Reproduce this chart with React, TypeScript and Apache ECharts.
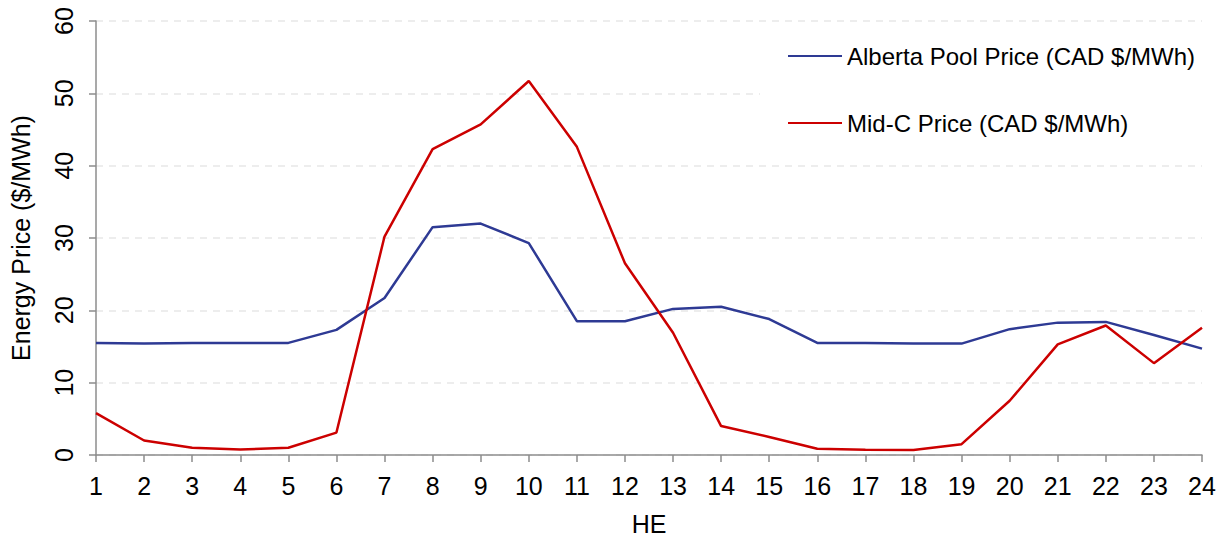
import React, { useEffect, useRef } from "react";
import * as echarts from "echarts";

// Hour-ending labels
const hours: string[] = Array.from({ length: 24 }, (_, i) => String(i + 1));

// Hourly prices, CAD $/MWh
const albertaPool: number[] = [
  15.5, 15.4, 15.5, 15.5, 15.5, 17.3, 21.7, 31.5, 32.0, 29.3, 18.5, 18.5,
  20.2, 20.5, 18.8, 15.5, 15.5, 15.4, 15.4, 17.4, 18.3, 18.4, 16.6, 14.7,
];
const midC: number[] = [
  5.8, 2.0, 1.0, 0.75, 1.0, 3.1, 30.2, 42.3, 45.7, 51.7, 42.6, 26.5,
  16.9, 4.0, 2.5, 0.87, 0.73, 0.7, 1.5, 7.5, 15.3, 17.9, 12.7, 17.6,
];

const seriesNames = ["Alberta Pool Price (CAD $/MWh)", "Mid-C Price (CAD $/MWh)"];
const FONT = "Liberation Sans, Arial, sans-serif";

export default function App() {
  const ref = useRef<HTMLDivElement>(null);

  useEffect(() => {
    if (!ref.current) return;
    const chart = echarts.init(ref.current, undefined, { renderer: "svg" });
    chart.setOption({
      animation: false,
      backgroundColor: "#ffffff",
      textStyle: { fontFamily: FONT },
      grid: { left: 95, right: 25, top: 21, bottom: 84 },
      legend: {
        orient: "vertical",
        left: 760,
        top: 36,
        itemGap: 43,
        itemWidth: 54,
        itemHeight: 2,
        backgroundColor: "#ffffff",
        padding: [8, 10, 8, 28],
        textStyle: { fontFamily: FONT, fontSize: 24, color: "#000" },
        icon: "rect",
        data: seriesNames,
      },
      xAxis: {
        type: "category",
        data: hours,
        boundaryGap: false,
        name: "HE",
        nameLocation: "middle",
        nameGap: 56,
        nameTextStyle: { fontFamily: FONT, fontSize: 25, color: "#000" },
        axisLine: { lineStyle: { color: "#8c8c8c", width: 1.5 } },
        axisTick: { alignWithLabel: true, length: 7, lineStyle: { color: "#8c8c8c", width: 1.5 } },
        axisLabel: { fontFamily: FONT, fontSize: 25, color: "#000", margin: 18, interval: 0 },
        splitLine: { show: false },
      },
      yAxis: {
        type: "value",
        min: 0,
        max: 60,
        interval: 10,
        name: "Energy Price ($/MWh)",
        nameLocation: "middle",
        nameGap: 63,
        nameRotate: 90,
        nameTextStyle: { fontFamily: FONT, fontSize: 25, color: "#000" },
        axisLine: { show: true, lineStyle: { color: "#8c8c8c", width: 1.5 } },
        axisTick: { show: true, length: 7, lineStyle: { color: "#8c8c8c", width: 1.5 } },
        axisLabel: { fontFamily: FONT, fontSize: 25, color: "#000", rotate: 90, margin: 20 },
        splitLine: { show: true, lineStyle: { color: "#e8e8e8", type: [7, 6], width: 1.5 } },
      },
      series: [
        {
          name: seriesNames[0],
          type: "line",
          data: albertaPool,
          symbol: "none",
          lineStyle: { color: "#2e3a94", width: 2.5 },
          itemStyle: { color: "#2e3a94" },
        },
        {
          name: seriesNames[1],
          type: "line",
          data: midC,
          symbol: "none",
          lineStyle: { color: "#cc0000", width: 2.5 },
          itemStyle: { color: "#cc0000" },
        },
      ],
    });
    return () => chart.dispose();
  }, []);

  return <div ref={ref} style={{ width: 1227, height: 541, position: "absolute", left: 0, top: 0 }} />;
}
